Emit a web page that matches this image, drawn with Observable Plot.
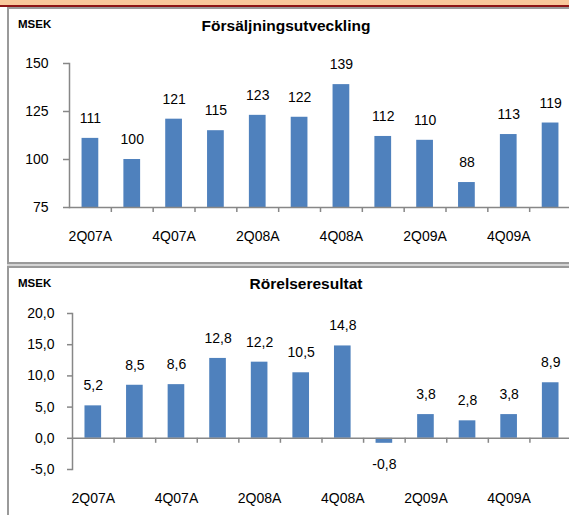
<!DOCTYPE html>
<html><head><meta charset="utf-8">
<script src="https://cdn.jsdelivr.net/npm/d3@7"></script>
<script src="https://cdn.jsdelivr.net/npm/@observablehq/plot@0.6"></script>
<style>
body{margin:0;background:#fff;}
#wrap{position:relative;width:569px;height:515px;overflow:hidden;background:#fff;font-family:"Liberation Sans",Arial,sans-serif;color:#000;}
.abs{position:absolute;}
.ttl{position:absolute;white-space:nowrap;font-weight:bold;line-height:1;transform:translateX(-50%);}
.unit{position:absolute;white-space:nowrap;font-weight:bold;line-height:1;font-size:11.5px;}
</style></head><body>
<div id="wrap">
  <div class="abs" style="left:0;top:0;width:569px;height:5px;background:#F9C89B"></div>
  <div class="abs" style="left:0;top:5px;width:569px;height:2px;background:#8E1616"></div>
  <div class="abs" style="left:7px;top:7px;width:600px;height:257px;border:2px solid #9a9a9a;box-sizing:border-box"></div>
  <div class="abs" style="left:7px;top:264px;width:600px;height:2px;background:#d4d4d4"></div>
  <div class="abs" style="left:7px;top:266px;width:600px;height:300px;border:2px solid #9a9a9a;box-sizing:border-box"></div>
  <div id="c1" class="abs" style="left:0;top:0"></div>
  <div id="c2" class="abs" style="left:0;top:264px"></div>
  <div class="unit" style="left:18px;top:19px">MSEK</div>
  <div class="ttl" style="left:286px;top:18px;font-size:15.5px">Försäljningsutveckling</div>
  <div class="unit" style="left:18px;top:278px">MSEK</div>
  <div class="ttl" style="left:306px;top:276px;font-size:15.5px">Rörelseresultat</div>
</div>
<script>
const quarters = ["2Q07A","3Q07A","4Q07A","1Q08A","2Q08A","3Q08A","4Q08A","1Q09A","2Q09A","3Q09A","4Q09A","1Q10A"];
const labeledQuarters = ["2Q07A","4Q07A","2Q08A","4Q08A","2Q09A","4Q09A"];
const sales = [111,100,121,115,123,122,139,112,110,88,113,119];
const ebit = [5.2,8.5,8.6,12.8,12.2,10.5,14.8,-0.8,3.8,2.8,3.8,8.9];
const salesTicks = [75,100,125,150];
const ebitTicks = [-5,0,5,10,15,20];

const FONT = "'Liberation Sans', Arial, sans-serif";
const BLUE = "#4F81BD";
const AXIS = "#878787";
const W = 571;
const TICK = 5;
const fmt = v => v.toFixed(1).replace(".", ",");

const salesData = quarters.map((q, i) => ({q, v: sales[i]}));
const ebitData = quarters.map((q, i) => ({q, v: ebit[i]}));

const svgStyle = {fontFamily: FONT, fontSize: "14px", color: "#000", background: "transparent", overflow: "visible", maxWidth: "none"};

function makeChart({data, ticks, base, m, tickFormat, tickPadding, yTickSize}) {
  const yMin = ticks[0], yMax = ticks[ticks.length - 1];
  const step = (W - m.left) / quarters.length;
  const pxPerUnit = (m.h - m.top - m.bottom) / (yMax - yMin);
  const pos = data.filter(d => d.v >= base), neg = data.filter(d => d.v < base);
  return Plot.plot({
    width: W, height: m.h,
    marginLeft: m.left, marginRight: 0, marginTop: m.top, marginBottom: m.bottom,
    style: svgStyle,
    x: {type: "band", domain: quarters, paddingInner: 0.6, paddingOuter: 0.3, round: false, axis: null},
    y: {domain: [yMin, yMax]},
    marks: [
      Plot.barY(data, {x: "q", y1: () => base, y2: "v", fill: BLUE}),
      Plot.ruleY([base], {stroke: AXIS, strokeWidth: 1.5}),
      Plot.frame({anchor: "left", stroke: AXIS, strokeWidth: 1.5}),
      Plot.axisY({ticks, tickSize: yTickSize, tickPadding, stroke: AXIS, fill: "#000", strokeWidth: 1.5, tickFormat, label: null}),
      Plot.ruleX(quarters, {x: d => d, y1: () => base, y2: () => base - TICK / pxPerUnit, dx: step / 2, stroke: AXIS, strokeWidth: 1.5}),
      Plot.text(labeledQuarters, {x: d => d, frameAnchor: "bottom", dy: 33, fill: "#000", fontSize: 14}),
      Plot.text(pos, {x: "q", y: "v", text: d => tickFormat(d.v), dy: -20, fill: "#000", fontSize: 14}),
      Plot.text(neg, {x: "q", y: "v", text: d => tickFormat(d.v), dy: 21, fill: "#000", fontSize: 14})
    ]
  });
}

const chart1 = makeChart({
  data: salesData, ticks: salesTicks, base: salesTicks[0],
  m: {left: 69, top: 63, bottom: 57, h: 264},
  tickFormat: d => String(d), tickPadding: 15, yTickSize: 6
});
document.getElementById("c1").appendChild(chart1);

const chart2 = makeChart({
  data: ebitData, ticks: ebitTicks, base: 0,
  m: {left: 72, top: 49, bottom: 46, h: 251},
  tickFormat: fmt, tickPadding: 13, yTickSize: 5
});
document.getElementById("c2").appendChild(chart2);
</script>
</body></html>
